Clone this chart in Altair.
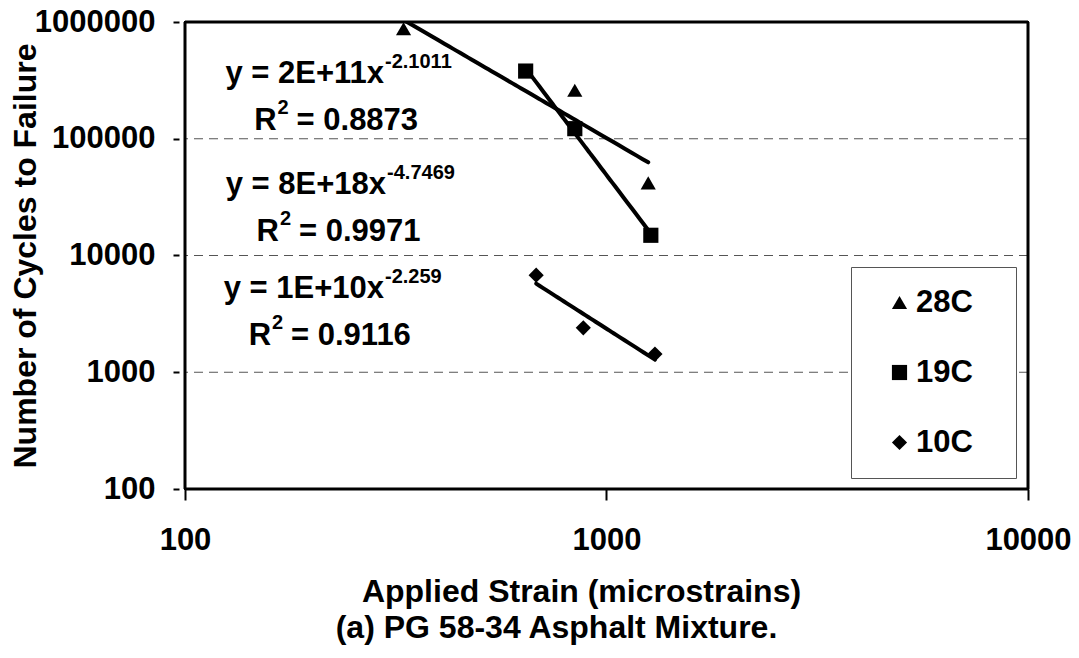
import altair as alt
import pandas as pd

FONT = "Liberation Sans, Arial, sans-serif"

# ---- data ----
temps = ["28C", "19C", "10C"]
strain_28C = [330, 841, 1256]
cycles_28C = [875000, 260000, 41900]
strain_19C = [643, 841, 1274]
cycles_19C = [380000, 122000, 14900]
strain_10C = [681, 881, 1303]
cycles_10C = [6780, 2400, 1430]

x_ticks = [100, 1000, 10000]
y_ticks = [100, 1000, 10000, 100000, 1000000]
grid_levels = [1000, 10000, 100000]

eq_main = ["y = 2E+11x", "y = 8E+18x", "y = 1E+10x"]
eq_exp = ["-2.1011", "-4.7469", "-2.259"]
r2_text = ["= 0.8873", "= 0.9971", "= 0.9116"]
# annotation anchors (data units)
eq_strain = [296.6, 299.9, 296.6]
eq_cycles = [301700, 33950, 4352]
r2_strain = [164.9, 167.1, 160.0]
r2_cycles = [118300, 13335, 1706]

pts = pd.DataFrame({
    "strain": strain_28C + strain_19C + strain_10C,
    "cycles": cycles_28C + cycles_19C + cycles_10C,
    "temp": ["28C"] * 3 + ["19C"] * 3 + ["10C"] * 3,
})
grid_df = pd.DataFrame({"cycles": grid_levels})
eq_df = pd.DataFrame({"strain": eq_strain, "cycles": eq_cycles, "main": eq_main, "exp": eq_exp})
r2_df = pd.DataFrame({"strain": r2_strain, "cycles": r2_cycles, "val": r2_text})
# plot frame along the domain edges
vframe_df = pd.DataFrame({"strain": [x_ticks[0], x_ticks[-1]]})
hframe_df = pd.DataFrame({"cycles": [y_ticks[0], y_ticks[-1]]})

xs = alt.Scale(type="log", domain=[100, 10000], nice=False)
ys = alt.Scale(type="log", domain=[100, 1000000], nice=False)

x_axis = alt.Axis(
    values=x_ticks, format="d", grid=False, domain=False,
    tickSize=11, tickWidth=2, tickColor="black",
    labelFont=FONT, labelFontSize=31, labelFontWeight="bold", labelColor="black",
    labelPadding=25, labelBaseline="top", labelFlush=False, labelOverlap=False,
    title="Applied Strain (microstrains)", titleFont=FONT, titleFontSize=32,
    titleFontWeight="bold", titleColor="black", titleX=396, titleY=112,
    titleBaseline="alphabetic", titleAlign="center",
)
y_axis = alt.Axis(
    values=y_ticks, format="d", grid=False, domain=False, offset=6,
    tickSize=6, tickWidth=2, tickColor="black",
    labelFont=FONT, labelFontSize=31, labelFontWeight="bold", labelColor="black",
    labelPadding=18, labelOverlap=False,
    title="Number of Cycles to Failure", titleFont=FONT, titleFontSize=32,
    titleFontWeight="bold", titleColor="black", titleX=-144, titleY=233.5,
    titleAngle=270, titleBaseline="alphabetic", titleAlign="center",
)

X = alt.X("strain:Q", scale=xs, axis=x_axis)
Y = alt.Y("cycles:Q", scale=ys, axis=y_axis)

grid = alt.Chart(grid_df).mark_rule(
    strokeDash=[9, 6], color="#555555", strokeWidth=1
).encode(y=Y)

lines = alt.Chart(pts).transform_regression(
    "strain", "cycles", method="pow", groupby=["temp"]
).mark_line(color="black", strokeWidth=4, clip=True, strokeCap="round").encode(
    x=X, y=Y, detail="temp:N"
)

legend = alt.Legend(
    title=None, orient="none", legendX=666, legendY=245,
    fillColor="white", strokeColor="#555555", padding=20,
    symbolOffset=13, rowPadding=38, labelOffset=1,
    labelExpr="datum.label + '\u2800'",
    labelFont=FONT, labelFontSize=31, labelFontWeight="bold", labelColor="black",
    symbolSize=230, symbolFillColor="black", symbolStrokeColor="black",
    symbolStrokeWidth=0,
)

points = alt.Chart(pts).mark_point(
    filled=True, size=230, color="black", opacity=1, strokeWidth=0
).encode(
    x=X, y=Y,
    shape=alt.Shape(
        "temp:N",
        scale=alt.Scale(domain=temps, range=["triangle-up", "square", "diamond"]),
        legend=legend,
    ),
)

txt = dict(font=FONT, fontWeight="bold", color="black", baseline="alphabetic")

eq_main_t = alt.Chart(eq_df).mark_text(align="right", fontSize=31, **txt).encode(
    x=X, y=Y, text="main:N")
eq_exp_t = alt.Chart(eq_df).mark_text(align="left", fontSize=20, dx=1, dy=-15, **txt).encode(
    x=X, y=Y, text="exp:N")
r_t = alt.Chart(r2_df).mark_text(align="right", fontSize=31, **txt).encode(
    x=X, y=Y, text=alt.value("R"))
r_sup = alt.Chart(r2_df).mark_text(align="left", fontSize=20, dx=1, dy=-16, **txt).encode(
    x=X, y=Y, text=alt.value("2"))
r_val = alt.Chart(r2_df).mark_text(align="left", fontSize=31, dx=20, **txt).encode(
    x=X, y=Y, text="val:N")

vframe = alt.Chart(vframe_df).mark_rule(color="#000000", strokeWidth=3).encode(x=X)
hframe = alt.Chart(hframe_df).mark_rule(color="#000000", strokeWidth=3).encode(y=Y)

chart = alt.layer(
    grid, lines, points, eq_main_t, eq_exp_t, r_t, r_sup, r_val, vframe, hframe
).properties(
    width=843, height=467,
    autosize=alt.AutoSizeParams(type="none"),
    padding={"left": 177, "top": 14, "right": 43, "bottom": 157},
    title=alt.TitleParams(
        text="(a) PG 58-34 Asphalt Mixture.", orient="bottom", anchor="middle",
        dx=-50, offset=6, font=FONT, fontSize=32, fontWeight="bold", color="black",
    ),
).configure(
    background="white",
    view=alt.ViewConfig(stroke="black", strokeWidth=2),
)

chart.save("out.html", embed_options={"renderer": "svg", "actions": False})
